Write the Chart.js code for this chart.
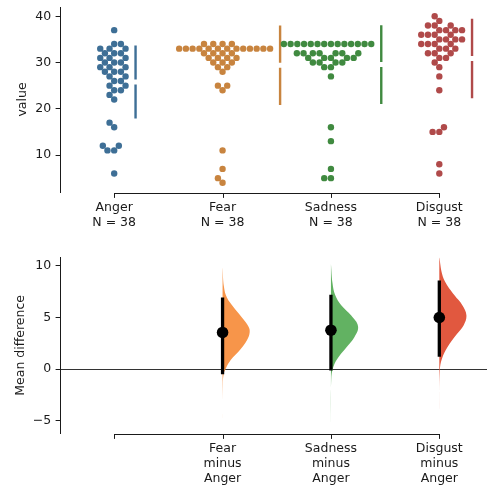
<!DOCTYPE html>
<html>
<head>
<meta charset="utf-8">
<script src="https://cdn.jsdelivr.net/npm/chart.js@4.4.1/dist/chart.umd.min.js"></script>
<style>
  html, body { margin: 0; padding: 0; background: #fff; }
  #wrap { position: relative; width: 487px; height: 487px; }
  #swarmChart { position: absolute; left: 0; top: 0; }
  #deltaChart { position: absolute; left: 0; top: 243px; }
</style>
</head>
<body>
<div id="wrap">
  <canvas id="swarmChart" width="487" height="243"></canvas>
  <canvas id="deltaChart" width="487" height="244"></canvas>
</div>
<script>
const groups = ["Anger", "Fear", "Sadness", "Disgust"];
const groupSizes = [38, 38, 38, 38];
const angerValues = [37, 34, 34, 33, 33, 33, 32, 32, 32, 31, 31, 31, 30, 30, 30, 29, 29, 29,
  28, 28, 28, 27, 27, 26, 26, 25, 25, 24, 24, 23, 22, 17, 16, 12, 12, 11, 11, 6];
const fearValues = [34, 34, 34, 34, 33, 33, 33, 33, 33, 33, 33, 33, 33, 33, 33, 33, 33,
  32, 32, 32, 32, 31, 31, 31, 31, 30, 30, 30, 29, 29, 28, 25, 25, 24, 11, 7, 5, 4];
const sadnessValues = [34, 34, 34, 34, 34, 34, 34, 34, 34, 34, 34, 34, 34, 34, 32, 32, 32, 32,
  32, 32, 32, 31, 31, 31, 31, 31, 30, 30, 30, 30, 29, 29, 27, 16, 13, 7, 5, 5];
const disgustValues = [40, 39, 38, 38, 38, 37, 37, 37, 37, 36, 36, 36, 36, 35, 35, 35, 35,
  34, 34, 34, 34, 33, 33, 33, 32, 32, 32, 31, 31, 30, 29, 27, 24, 16, 15, 15, 8, 6];
const groupValues = [angerValues, fearValues, sadnessValues, disgustValues];

// mean +/- sd shown by the gapped lines
const groupMeans = [25.8, 29.4, 29.55, 30.85];
const groupSds = [7.9, 8.6, 8.5, 8.6];

const topTicks = [10, 20, 30, 40];
const deltaTicks = [-5, 0, 5, 10];

// contrasts against Anger
const contrastNames = [["Fear", "minus", "Anger"], ["Sadness", "minus", "Anger"], ["Disgust", "minus", "Anger"]];
const meanDiffs = [3.55, 3.77, 5.0];
const ciLow = [-0.5, -0.15, 1.2];
const ciHigh = [6.95, 7.2, 8.6];

// bootstrap distributions: mean difference and relative density
const fearDeltaY = [-5.1, -1.5, -0.5, 0.05, 0.87, 1.84, 2.8, 3.55, 4.1, 5.06, 6.03, 6.93, 8.0, 9.9];
const fearDensity = [0, 0.01, 0.04, 0.12, 0.3, 0.64, 0.9, 1.0, 0.96, 0.7, 0.4, 0.16, 0.05, 0];
const sadnessDeltaY = [-5.6, -1.06, 0.22, 1.19, 2.16, 3.12, 4.16, 5.2, 6.2, 7.16, 8.3, 10.2];
const sadnessDensity = [0, 0.01, 0.09, 0.29, 0.59, 0.87, 1.0, 0.75, 0.38, 0.16, 0.06, 0];
const disgustDeltaY = [-4.3, -0.1, 1.03, 2.16, 3.3, 4.26, 5.22, 6.2, 7.16, 8.3, 9.25, 10.9];
const disgustDensity = [0, 0.02, 0.1, 0.31, 0.62, 0.9, 1.0, 0.85, 0.56, 0.25, 0.1, 0];
const deltaYs = [fearDeltaY, sadnessDeltaY, disgustDeltaY];
const densities = [fearDensity, sadnessDensity, disgustDensity];

const swarmColors = ["#3e6f96", "#c8843f", "#408a40", "#b04a4a"];
const deltaColors = ["#f7954a", "#62b262", "#e1583f"];
const INK = "#1a1a1a";
const DOT_SPACING = 6.4;   // px between swarm dot centres
const SD_LINE_GAP = 10;    // px from widest dot to the sd line
const SD_BREAK = 2.5;      // px half gap at the mean
const VIOLIN_WIDTH = 0.25; // x units at peak density

Chart.defaults.font.family = "'DejaVu Sans', sans-serif";
Chart.defaults.font.size = 12.5;
Chart.defaults.color = INK;

const trimmedSpine = {
  id: "trimmedSpine",
  afterDraw(chart) {
    const { ctx, chartArea } = chart;
    const xs = chart.scales.x;
    const y0 = Math.round(chartArea.bottom + 1.3) + 0.5;
    ctx.save();
    ctx.strokeStyle = INK;
    ctx.lineWidth = 1;
    ctx.beginPath();
    ctx.moveTo(Math.round(xs.getPixelForValue(0)), y0);
    ctx.lineTo(Math.round(xs.getPixelForValue(groups.length - 1)) + 1, y0);
    groups.forEach((g, i) => {
      const px = Math.round(xs.getPixelForValue(i)) + 0.5;
      ctx.moveTo(px, y0);
      ctx.lineTo(px, y0 + 4.4);
    });
    ctx.stroke();
    ctx.restore();
  },
};

// seaborn-like swarm: place each point nearest the midline without overlap
function swarmOffsets(values, yScale, d) {
  const order = values.map((_, k) => k).sort((a, b) => values[a] - values[b]);
  const placed = [];
  const offs = new Array(values.length).fill(0);
  order.forEach((k) => {
    const y = yScale.getPixelForValue(values[k]);
    const near = placed.filter((p) => Math.abs(p.y - y) < d);
    const cands = [0];
    let leftFirst = true;
    near.forEach((p) => {
      const dy = y - p.y;
      const dx = Math.sqrt(Math.max(d * d - dy * dy, 0)) * 1.05;
      if (leftFirst) cands.push(p.x - dx, p.x + dx);
      else cands.push(p.x + dx, p.x - dx);
      leftFirst = !leftFirst;
    });
    const sorted = cands
      .map((c, j) => [c, j])
      .sort((a, b) => Math.abs(a[0]) - Math.abs(b[0]) || a[1] - b[1])
      .map((a) => a[0]);
    let x = sorted.find((c) => near.every((p) => Math.hypot(c - p.x, y - p.y) >= d - 0.01));
    if (x === undefined) x = 0;
    offs[k] = x;
    placed.push({ x, y });
  });
  return offs;
}

function yAxis(ticks, title, titlePad, fmt) {
  return {
    min: 0, max: 1,
    afterBuildTicks: (s) => { s.ticks = ticks.map((v) => ({ value: v })); },
    afterFit: (s) => { s.width = 60; s.paddingTop = 0; s.paddingBottom = 0; },
    border: { display: true, color: INK, width: 1 },
    grid: { drawOnChartArea: false, drawTicks: true, tickLength: 4.4, tickColor: INK, tickWidth: 1 },
    ticks: { padding: 4.4, color: INK, callback: fmt || ((v) => v) },
    title: { display: true, text: title, color: INK, padding: { top: titlePad, bottom: 0 } },
  };
}

function xAxis(height, labelFor) {
  return {
    type: "linear", min: -0.5, max: 3.44,
    afterBuildTicks: (s) => { s.ticks = groups.map((g, i) => ({ value: i })); },
    afterFit: (s) => { s.height = height; s.paddingLeft = 0; s.paddingRight = 0; },
    border: { display: false },
    grid: { display: false, drawTicks: false, tickLength: 0 },
    ticks: { padding: 8, color: INK, autoSkip: false, maxRotation: 0, minRotation: 0, callback: labelFor },
  };
}

// ---------- top: swarm plot ----------
const topY = yAxis(topTicks, "value", 14.8);
topY.min = 2; topY.max = 42;

const swarmDatasets = groupValues.map((vals, i) => ({
  type: "scatter",
  data: vals.map((v) => ({ x: i, y: v })),
  backgroundColor: swarmColors[i],
  borderWidth: 0,
  pointRadius: 3.2,
  pointHoverRadius: 3.2,
}));
const sdDatasets = groups.map((g, i) => ({
  type: "line",
  data: [],
  borderColor: swarmColors[i],
  borderWidth: 2.4,
  borderCapStyle: "butt",
  pointRadius: 0,
  spanGaps: false,
  fill: false,
}));

const swarmChart = new Chart(document.getElementById("swarmChart"), {
  type: "scatter",
  data: { datasets: [...swarmDatasets, ...sdDatasets] },
  options: {
    responsive: false,
    animation: false,
    events: [],
    layout: { autoPadding: false, padding: { top: 7, right: 0, bottom: 0, left: 0 } },
    plugins: { legend: { display: false }, tooltip: { enabled: false } },
    scales: {
      x: xAxis(51, (v) => [groups[v], "N = " + groupSizes[v]]),
      y: topY,
    },
  },
  plugins: [trimmedSpine],
});

function layoutSwarms(chart) {
  const xs = chart.scales.x;
  const ys = chart.scales.y;
  const unitPx = xs.getPixelForValue(1) - xs.getPixelForValue(0);
  const pxToY = (ys.max - ys.min) / (ys.bottom - ys.top);
  groupValues.forEach((vals, i) => {
    const offs = swarmOffsets(vals, ys, DOT_SPACING);
    chart.data.datasets[i].data = vals.map((v, k) => ({ x: i + offs[k] / unitPx, y: v }));
    const lineX = i + (Math.max(...offs) + SD_LINE_GAP) / unitPx;
    const gap = SD_BREAK * pxToY;
    chart.data.datasets[groups.length + i].data = [
      { x: lineX, y: groupMeans[i] + groupSds[i] },
      { x: lineX, y: groupMeans[i] + gap },
      { x: lineX, y: null },
      { x: lineX, y: groupMeans[i] - gap },
      { x: lineX, y: groupMeans[i] - groupSds[i] },
    ];
  });
  chart.update("none");
}
layoutSwarms(swarmChart);

// ---------- bottom: mean differences ----------
const botY = yAxis(deltaTicks, "Mean difference", 13.1, (v) => (v < 0 ? "\u2212" + Math.abs(v) : v));
botY.min = -6.2; botY.max = 10.8;
botY.grid.drawOnChartArea = true;
botY.grid.color = (c) => (c.tick && c.tick.value === 0 ? "#333" : "rgba(0,0,0,0)");

const ciData = [];
meanDiffs.forEach((m, j) => {
  ciData.push({ x: j + 1, y: ciLow[j] }, { x: j + 1, y: ciHigh[j] }, { x: j + 1, y: null });
});

const violinDatasets = deltaYs.map((ys, j) => ({
  type: "line",
  data: ys.map((y, k) => ({ x: j + 1 + densities[j][k] * VIOLIN_WIDTH, y })),
  backgroundColor: deltaColors[j],
  borderWidth: 0,
  pointRadius: 0,
  tension: 0.4,
  fill: "shape",
  order: 3,
}));

new Chart(document.getElementById("deltaChart"), {
  type: "scatter",
  data: {
    datasets: [
      {
        type: "scatter",
        data: meanDiffs.map((m, j) => ({ x: j + 1, y: m })),
        backgroundColor: "#000",
        borderWidth: 0,
        pointRadius: 5.8,
        order: 1,
      },
      {
        type: "line",
        data: ciData,
        borderColor: "#000",
        borderWidth: 3.3,
        borderCapStyle: "butt",
        pointRadius: 0,
        spanGaps: false,
        fill: false,
        order: 2,
      },
      ...violinDatasets,
    ],
  },
  options: {
    responsive: false,
    animation: false,
    events: [],
    layout: { autoPadding: false, padding: { top: 14.7, right: 0, bottom: 0, left: 0 } },
    plugins: { legend: { display: false }, tooltip: { enabled: false } },
    scales: {
      x: xAxis(54, (v) => (v === 0 ? "" : contrastNames[v - 1])),
      y: botY,
    },
  },
  plugins: [trimmedSpine],
});
</script>
</body>
</html>
